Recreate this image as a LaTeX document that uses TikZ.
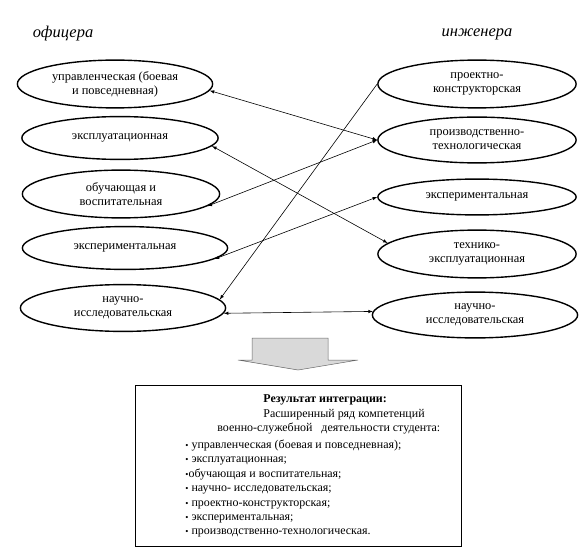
\documentclass[tikz,border=0pt]{standalone}
\usepackage{fontspec}
\setmainfont{Liberation Serif}
\usepackage{xcolor}
\usepackage{tikz}
\usetikzlibrary{arrows,shapes,calc}

\begin{document}
\begin{tikzpicture}
[x = 1bp, y = -1bp,
 font = \fontsize{12.5}{14}\selectfont,
 comp/.style = {ellipse, draw, line width = 1.4pt, inner sep = 0pt, align = center},
 link/.style = {latex-latex, line width = 0.6pt}]

\useasboundingbox (0,0) rectangle (585,555);

\node (O) at (63,34) {\fontsize{16.5}{18}\selectfont\itshape офицера};
\node (E) at (477,34) {\fontsize{16.5}{18}\selectfont\itshape инженера};

\node (L1) [comp, minimum width = 196, minimum height = 48] at (115,84) {управленческая (боевая\\ и повседневная)};
\node (L2) [comp, minimum width = 197, minimum height = 43] at (120,138) {эксплуатационная};
\node (L3) [comp, minimum width = 198, minimum height = 48] at (121,194) {обучающая и\\ воспитательная};
\node (L4) [comp, minimum width = 206, minimum height = 43] at (125,248) {экспериментальная};
\node (L5) [comp, minimum width = 206, minimum height = 47] at (123,308) {научно-\\ исследовательская};

\node (R1) [comp, minimum width = 199, minimum height = 48] at (477,84) {проектно-\\ конструкторская};
\node (R2) [comp, minimum width = 199, minimum height = 46] at (477,140) {производственно-\\ технологическая};
\node (R3) [comp, minimum width = 199, minimum height = 36] at (477,197) {экспериментальная};
\node (R4) [comp, minimum width = 199, minimum height = 48] at (477,254) {технико-\\ эксплуатационная};
\node (R5) [comp, minimum width = 206, minimum height = 46] at (475,315) {научно-\\ исследовательская};

\draw [link] (L1.-4) -- (R2.west);
\draw [link] (L3.-8) -- (R2.west);
\draw [link] (L2.-5) -- (R4.173);
\draw [link] (L4.-7) -- (R3.west);
\draw [-latex, line width = 0.6pt] (R1.west) -- (L5.5);
\draw [link] (L5.-3) -- (R5.178);

\draw [fill = black!15, draw = black!60, line width = 0.5pt]
  (252,338) -- (328,338) -- (328,360) -- (358,360) -- (298,370) -- (238,360) -- (252,360) -- cycle;

\node (res) [draw, line width = 0.8pt, minimum width = 327, minimum height = 162] at (298.5,466) {};
\node [anchor = north west, align = left, inner sep = 0pt, font = \fontsize{12}{14.5}\selectfont]
  at ($(res.north west)+(50,10)$)
{\hspace*{78bp}\textbf{Результат интеграции:}\\
 \hspace*{78bp}Расширенный ряд компетенций\\
 \hspace*{32bp}военно-служебной\ \ \ деятельности студента:\\[2pt]
 {\fontsize{9}{9}\selectfont•} управленческая (боевая и повседневная);\\
 {\fontsize{9}{9}\selectfont•} эксплуатационная;\\
 {\fontsize{9}{9}\selectfont•}обучающая и воспитательная;\\
 {\fontsize{9}{9}\selectfont•} научно- исследовательская;\\
 {\fontsize{9}{9}\selectfont•} проектно-конструкторская;\\
 {\fontsize{9}{9}\selectfont•} экспериментальная;\\
 {\fontsize{9}{9}\selectfont•} производственно-технологическая.};

\end{tikzpicture}
\end{document}
